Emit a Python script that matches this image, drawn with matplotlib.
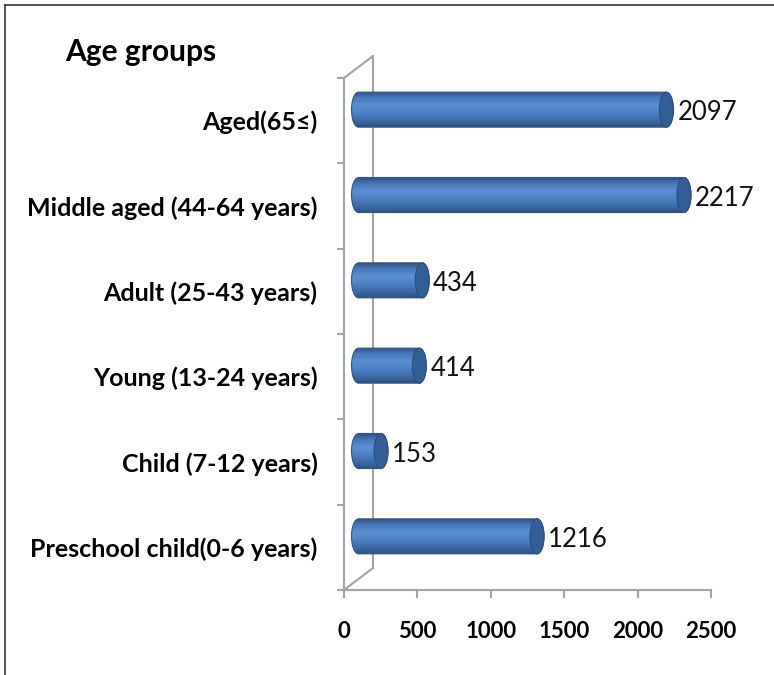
import numpy as np
import matplotlib.pyplot as plt
import matplotlib.transforms as mtransforms
from matplotlib.patches import Ellipse, Polygon
from matplotlib.colors import LinearSegmentedColormap
from matplotlib.lines import Line2D

categories = ['Preschool child(0-6 years)', 'Child (7-12 years)', 'Young (13-24 years)',
              'Adult (25-43 years)', 'Middle aged (44-64 years)', 'Aged(65≤)']
counts = [1216, 153, 414, 434, 2217, 2097]
xticks = [0, 500, 1000, 1500, 2000, 2500]

plt.rcParams['font.family'] = ['Lato', 'DejaVu Sans']

W, H = 774, 675
fig = plt.figure(figsize=(W / 100, H / 100), dpi=100)
ax = fig.add_axes([344 / W, 1 - 590 / H, 367 / W, 512 / H])

px_x = 367 / 2500      # pixels per data unit
px_cat = 512 / 6       # pixels per category

def shift(dx, dy):
    return mtransforms.ScaledTranslation(dx / 100, dy / 100, fig.dpi_scale_trans)

axis_col = '#a3a3a3'
trans_bar = ax.transData + shift(14.5, 11)
trans_back = ax.transData + shift(29, 22)

cyl = LinearSegmentedColormap.from_list('cyl', [
    (0.0, '#2b4f80'), (0.18, '#3d6aa6'), (0.45, '#4f84c8'),
    (0.62, '#5a8fd2'), (0.82, '#4a7cbe'), (1.0, '#2f5588')])
grad = np.linspace(0, 1, 256).reshape(-1, 1)

h = 35 / px_cat
a = 7 / px_x
for i, v in enumerate(counts):
    t1 = np.linspace(np.pi / 2, 3 * np.pi / 2, 40)
    t2 = np.linspace(-np.pi / 2, np.pi / 2, 40)
    pts = np.vstack([
        np.column_stack([a * np.cos(t1), i + h / 2 * np.sin(t1)]),
        np.column_stack([v + a * np.cos(t2), i + h / 2 * np.sin(t2)]),
    ])
    body = Polygon(pts, closed=True, transform=trans_bar, facecolor='none',
                   edgecolor='#2e5384', lw=0.8, zorder=4)
    ax.add_patch(body)
    im = ax.imshow(grad, cmap=cyl, aspect='auto', origin='lower',
                   extent=[-a, v + a, i - h / 2, i + h / 2], zorder=3,
                   interpolation='bilinear')
    im.set_transform(trans_bar)
    im.set_clip_path(body)
    cap = Ellipse((v, i), 2 * a, h, transform=trans_bar, facecolor='#345e96',
                  edgecolor='#2b4f80', lw=0.8, zorder=5)
    ax.add_patch(cap)
    ax.text(v + a, i, str(v), transform=trans_bar + shift(4, -3), fontsize=18.5,
            va='center', ha='left', color='#111111', zorder=6)

ax.set_xlim(0, 2500)
ax.set_ylim(-0.5, 5.5)

for s in ['top', 'right']:
    ax.spines[s].set_visible(False)
for s in ['left', 'bottom']:
    ax.spines[s].set_color(axis_col)
    ax.spines[s].set_linewidth(1.5)

ax.set_xticks(xticks)
ax.set_xticklabels([str(x) for x in xticks], fontsize=16, fontweight='bold')
ax.tick_params(axis='x', length=6, width=1.5, color=axis_col, pad=16)

ax.set_yticks(range(len(categories)))
ax.set_yticklabels(categories, fontsize=18, fontweight='bold')
ax.set_yticks(np.arange(-0.5, 6, 1), minor=True)
ax.tick_params(axis='y', which='major', length=0, pad=19)
ax.tick_params(axis='y', which='minor', length=5, width=1.5, color=axis_col)

# back wall of the 3D frame
ax.plot([0, 0], [-0.5, 5.5], transform=trans_back, color=axis_col, lw=1.5,
        clip_on=False, zorder=1)
for yy in [-0.5, 5.5]:
    ax.annotate('', xy=(0, yy), xytext=(29, 22), textcoords='offset pixels',
                arrowprops=dict(arrowstyle='-', color=axis_col, lw=1.5,
                                shrinkA=0, shrinkB=0), annotation_clip=False)

fig.text(65 / W, 1 - 52 / H, 'Age groups', fontsize=21.5, fontweight='bold',
         va='center', ha='left')

fig.add_artist(Line2D([5 / W, 5 / W], [0, 1 - 5 / H], transform=fig.transFigure,
                      color='#333333', lw=1.2))
fig.add_artist(Line2D([5 / W, 1], [1 - 5 / H, 1 - 5 / H], transform=fig.transFigure,
                      color='#333333', lw=1.2))

fig.savefig('out.png', dpi=100)
